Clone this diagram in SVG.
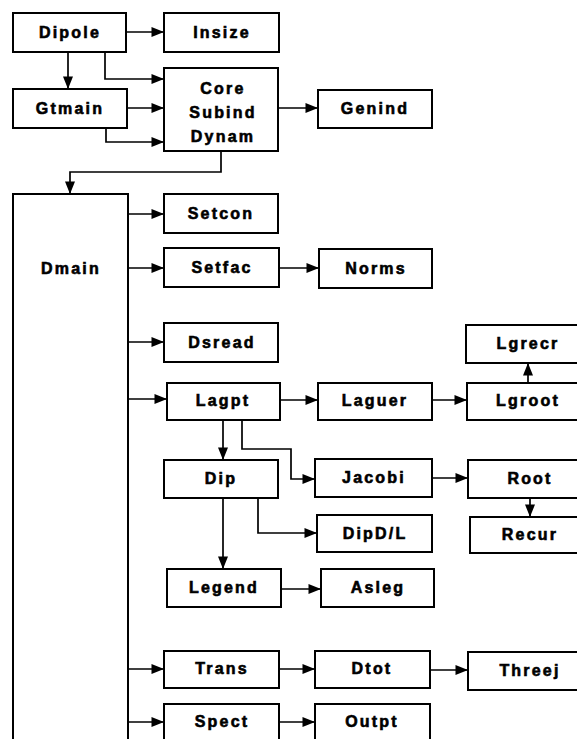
<svg xmlns="http://www.w3.org/2000/svg" width="577" height="739" viewBox="0 0 577 739">
  <style>
    .box rect { fill: #fff; stroke: #000; stroke-width: 2; }
    .box text { font-family: "Liberation Sans", Arial, sans-serif; font-weight: bold; font-size: 16px; letter-spacing: 2.2px; text-anchor: middle; fill: #000; stroke: #000; stroke-width: 0.6; }
    #connectors path { fill: none; stroke: #000; stroke-width: 1.7; marker-end: url(#arrow); }
  </style>
  <defs>
    <marker id="arrow" viewBox="0 0 10 8" refX="10" refY="4" markerWidth="13" markerHeight="10" markerUnits="userSpaceOnUse" orient="auto">
      <path d="M0,0 L10,4 L0,8 Z" fill="#000"/>
    </marker>
  </defs>
  <rect width="577" height="739" fill="#fff"/>

  <g id="connectors">
    <path d="M126,32 H164"/>
    <path d="M68,52 V89"/>
    <path d="M105,52 V79 H164"/>
    <path d="M127,108 H164"/>
    <path d="M106,128 V142 H164"/>
    <path d="M278,108 H318"/>
    <path d="M221,151 V172 H70 V194"/>
    <path d="M128,214 H164"/>
    <path d="M128,268 H164"/>
    <path d="M279,268 H319"/>
    <path d="M128,342 H164"/>
    <path d="M128,399 H167"/>
    <path d="M280,400 H318"/>
    <path d="M432,400 H467"/>
    <path d="M528,383 V363"/>
    <path d="M223,420 V460"/>
    <path d="M242,420 V449 H291 V479 H315"/>
    <path d="M432,478 H468"/>
    <path d="M530,498 V517"/>
    <path d="M258,498 V533 H317"/>
    <path d="M223,498 V569"/>
    <path d="M281,589 H321"/>
    <path d="M128,669 H164"/>
    <path d="M279,669 H315"/>
    <path d="M430,670 H468"/>
    <path d="M128,722 H164"/>
    <path d="M279,722 H315"/>
  </g>

  <g id="dipole" class="box"><rect x="13" y="13" width="113" height="39"/><text x="70" y="38">Dipole</text></g>
  <g id="insize" class="box"><rect x="164" y="13" width="115" height="39"/><text x="222" y="38">Insize</text></g>
  <g id="gtmain" class="box"><rect x="13" y="89" width="114" height="39"/><text x="70" y="114">Gtmain</text></g>
  <g id="core" class="box"><rect x="164" y="68" width="114" height="83"/>
    <text x="223" y="94">Core</text>
    <text x="223" y="118">Subind</text>
    <text x="223" y="142">Dynam</text>
  </g>
  <g id="genind" class="box"><rect x="318" y="90" width="114" height="38"/><text x="375" y="114">Genind</text></g>
  <g id="dmain" class="box"><rect x="13" y="194" width="115" height="570"/><text x="71" y="274">Dmain</text></g>
  <g id="setcon" class="box"><rect x="164" y="194" width="114" height="39"/><text x="221" y="219">Setcon</text></g>
  <g id="setfac" class="box"><rect x="164" y="248" width="115" height="39"/><text x="222" y="273">Setfac</text></g>
  <g id="norms" class="box"><rect x="319" y="249" width="113" height="39"/><text x="376" y="274">Norms</text></g>
  <g id="dsread" class="box"><rect x="164" y="323" width="114" height="39"/><text x="222" y="348">Dsread</text></g>
  <g id="lgrecr" class="box"><rect x="466" y="325" width="130" height="38"/><text x="528" y="349">Lgrecr</text></g>
  <g id="lagpt" class="box"><rect x="167" y="383" width="113" height="37"/><text x="223" y="406">Lagpt</text></g>
  <g id="laguer" class="box"><rect x="318" y="383" width="114" height="37"/><text x="375" y="406">Laguer</text></g>
  <g id="lgroot" class="box"><rect x="467" y="383" width="130" height="37"/><text x="528" y="406">Lgroot</text></g>
  <g id="dip" class="box"><rect x="164" y="460" width="114" height="38"/><text x="221" y="484">Dip</text></g>
  <g id="jacobi" class="box"><rect x="315" y="459" width="117" height="38"/><text x="374" y="483">Jacobi</text></g>
  <g id="root" class="box"><rect x="468" y="460" width="130" height="38"/><text x="530" y="484">Root</text></g>
  <g id="dipdl" class="box"><rect x="317" y="515" width="115" height="37"/><text x="375" y="539">DipD/L</text></g>
  <g id="recur" class="box"><rect x="470" y="517" width="130" height="36"/><text x="530" y="540">Recur</text></g>
  <g id="legend" class="box"><rect x="167" y="569" width="114" height="38"/><text x="224" y="593">Legend</text></g>
  <g id="asleg" class="box"><rect x="321" y="569" width="113" height="38"/><text x="378" y="593">Asleg</text></g>
  <g id="trans" class="box"><rect x="164" y="651" width="115" height="37"/><text x="222" y="674">Trans</text></g>
  <g id="dtot" class="box"><rect x="315" y="651" width="115" height="37"/><text x="372" y="674">Dtot</text></g>
  <g id="threej" class="box"><rect x="468" y="652" width="130" height="38"/><text x="530" y="676">Threej</text></g>
  <g id="spect" class="box"><rect x="164" y="704" width="115" height="50"/><text x="222" y="727">Spect</text></g>
  <g id="outpt" class="box"><rect x="315" y="704" width="115" height="50"/><text x="372" y="727">Outpt</text></g>
</svg>
